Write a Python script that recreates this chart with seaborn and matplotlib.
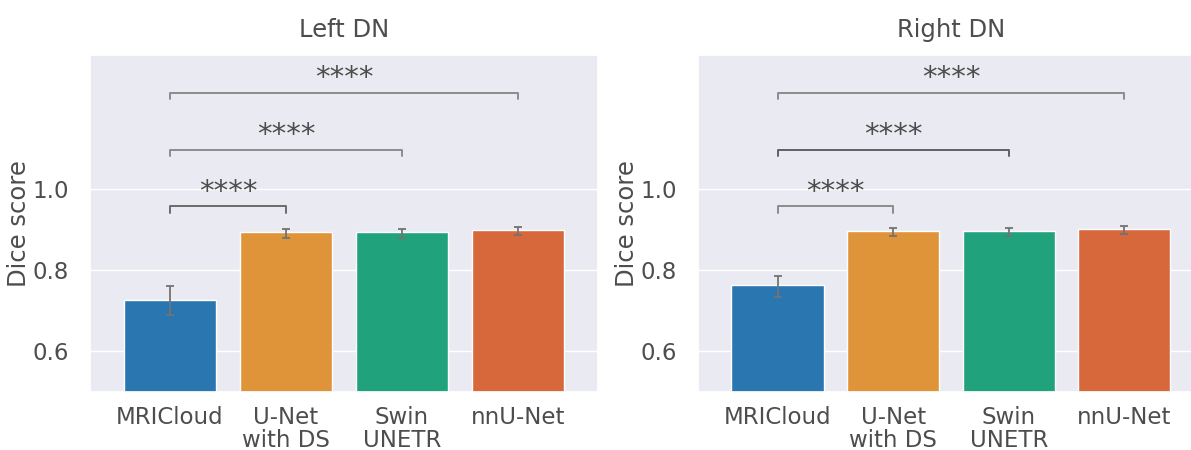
import matplotlib
matplotlib.use("Agg")
import matplotlib.pyplot as plt
import seaborn as sns
import pandas as pd

# Methods compared on each dentate nucleus
methods = ["MRICloud", "U-Net\nwith DS", "Swin\nUNETR", "nnU-Net"]

# Mean Dice score and error-bar extents per method
left_mean = [0.727, 0.893, 0.893, 0.899]
left_low = [0.690, 0.879, 0.880, 0.886]
left_high = [0.760, 0.901, 0.902, 0.907]

right_mean = [0.763, 0.897, 0.897, 0.901]
right_low = [0.733, 0.884, 0.884, 0.890]
right_high = [0.786, 0.904, 0.905, 0.909]

# Significance brackets: (first method, second method, bracket height, label)
pairs = [(0, 1, 0.957, "****"), (0, 2, 1.096, "****"), (0, 3, 1.237, "****")]

panel_titles = ["Left DN", "Right DN"]

# Softened colorblind palette for the four methods
bar_colors = ["#2976b0", "#e0943a", "#20a37c", "#d6683c"]
# Line shade of each bracket, per panel
left_bracket_shades = ["0.42", "0.55", "0.55"]
right_bracket_shades = ["0.55", "0.38", "0.55"]

sns.set_theme(style="darkgrid")
plt.rcParams["font.family"] = ["DejaVu Sans"]
text_color = "0.3"
plt.rcParams.update({
    "text.color": text_color,
    "axes.labelcolor": text_color,
    "xtick.color": text_color,
    "ytick.color": text_color,
})

fig = plt.figure(figsize=(11.91, 4.5), dpi=100)
ax_left = fig.add_axes([0.0756, 0.1289, 0.4265, 0.7489])
ax_right = fig.add_axes([0.586, 0.1289, 0.4249, 0.7489])

panels = [
    (ax_left, left_mean, left_low, left_high, panel_titles[0], left_bracket_shades),
    (ax_right, right_mean, right_low, right_high, panel_titles[1], right_bracket_shades),
]

for ax, mean, low, high, title, shades in panels:
    df = pd.DataFrame({"method": methods, "dice": mean})
    sns.barplot(data=df, x="method", y="dice", hue="method",
                palette=bar_colors, saturation=1, errorbar=None,
                width=0.8, legend=False, ax=ax)
    xs = list(range(len(methods)))
    yerr = [[m - lo for m, lo in zip(mean, low)],
            [hi - m for m, hi in zip(mean, high)]]
    ax.errorbar(xs, mean, yerr=yerr, fmt="none", ecolor="0.45",
                elinewidth=1.3, capsize=2.9, capthick=1.3, zorder=5)

    tip = 0.015
    for (a, b, y, label), shade in zip(pairs, shades):
        ax.plot([a, a, b, b], [y - tip, y, y, y - tip],
                color=shade, linewidth=1.4, zorder=4)
        ax.text((a + b) / 2, y + 0.002, label, ha="center", va="bottom",
                fontsize=21, color="0.3")

    ax.set_ylim(0.5, 1.33)
    ax.set_xlim(-0.69, 3.69)
    ax.set_yticks([0.6, 0.8, 1.0])
    ax.set_yticklabels(["0.6", "0.8", "1.0"])
    ax.tick_params(axis="y", labelsize=16.5, pad=9)
    ax.tick_params(axis="x", labelsize=16.5, pad=4)
    for lab in ax.get_xticklabels():
        lab.set_linespacing(1.0)
    ax.set_xlabel("")
    ax.set_ylabel("Dice score", fontsize=17.5, labelpad=1)
    ax.set_title(title, fontsize=17.5, pad=13)

fig.savefig("out.png", dpi=100)
